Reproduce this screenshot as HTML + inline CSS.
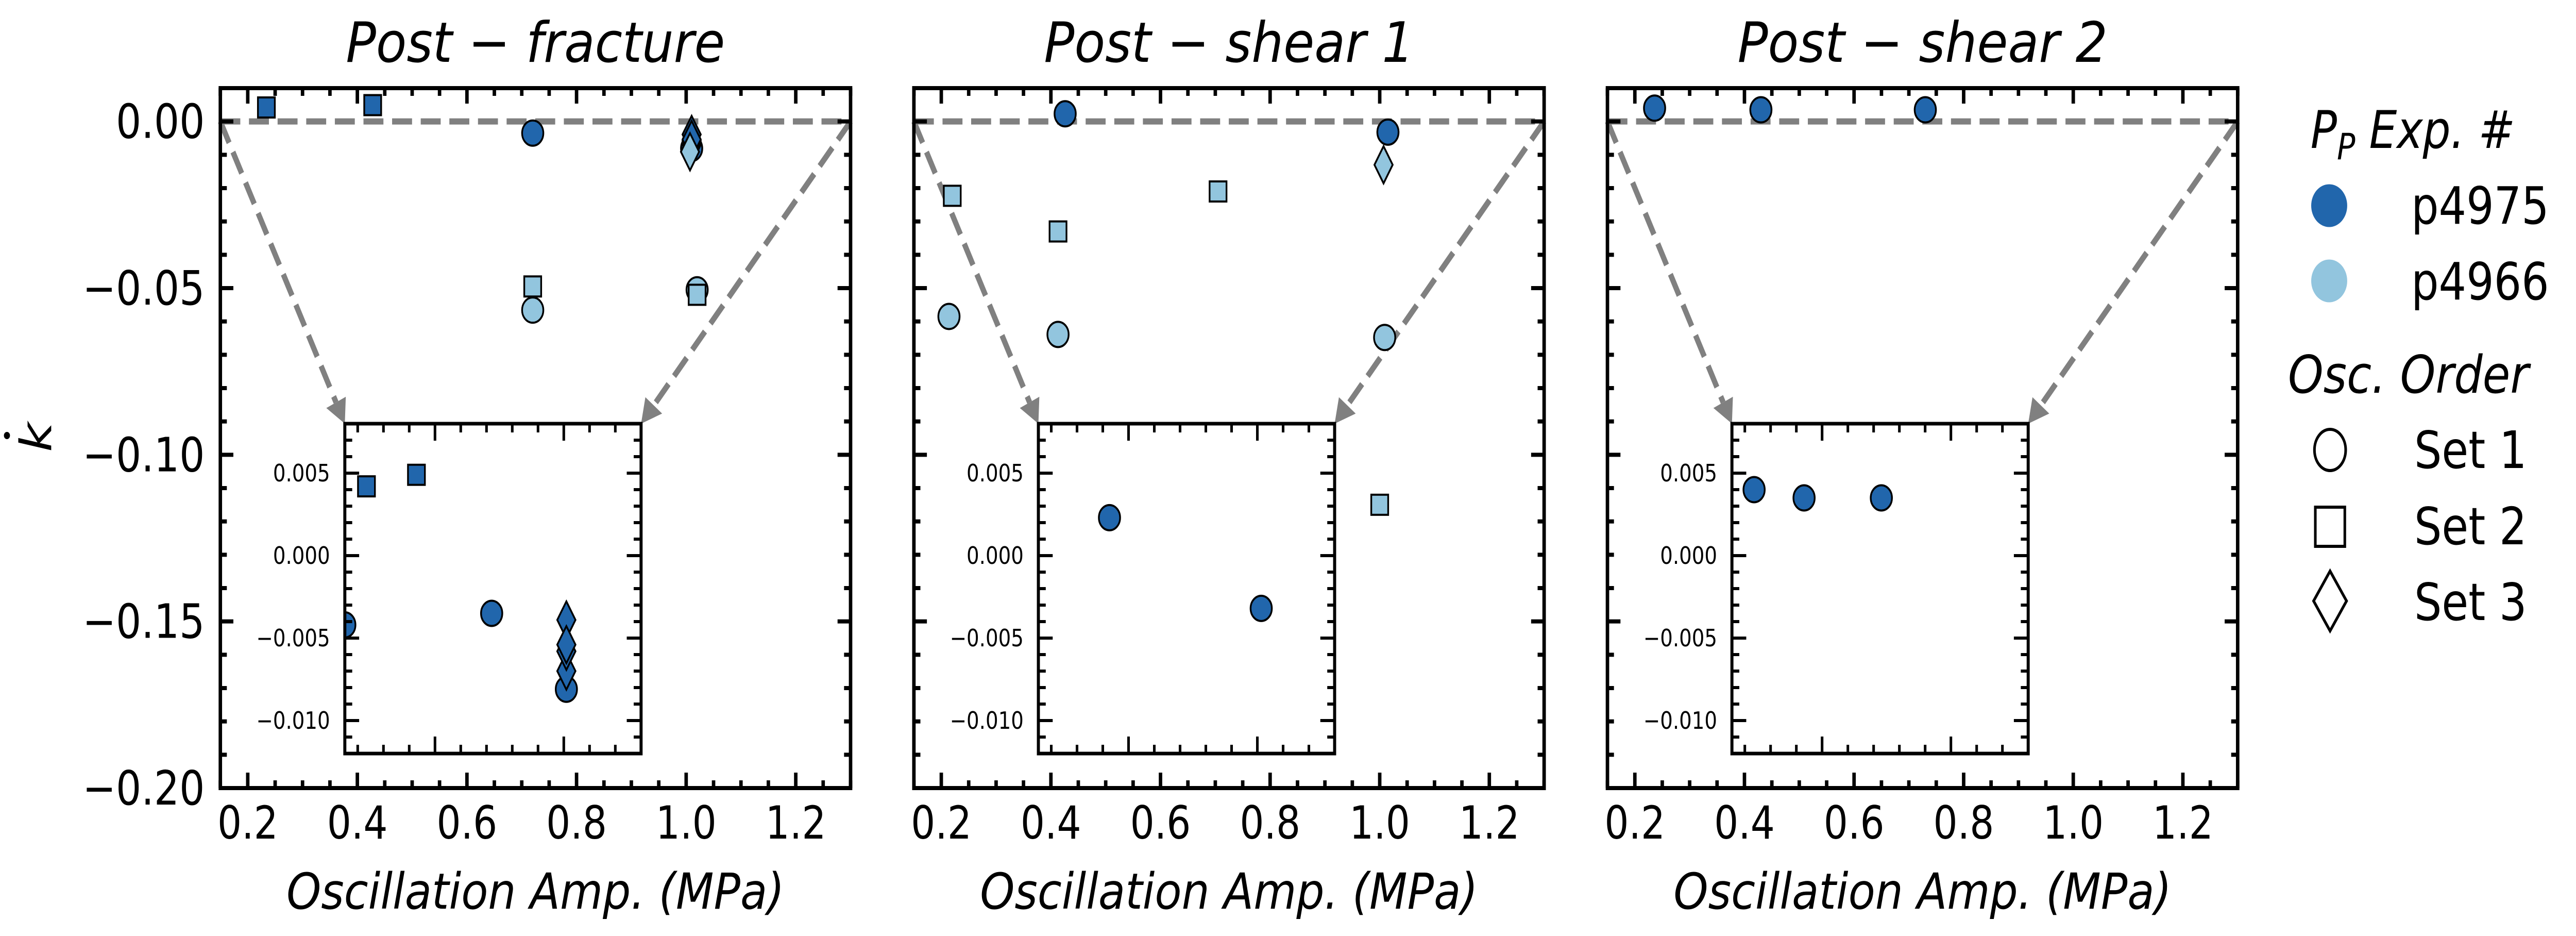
<!DOCTYPE html>
<html><head><meta charset="utf-8"><title>k-dot vs oscillation amplitude</title>
<style>
html,body{margin:0;padding:0;background:#fff;width:100%;height:100%;overflow:hidden;}
svg{display:block;width:100vw;height:100vh;}
text{font-family:"DejaVu Sans","Liberation Sans",sans-serif;fill:#000;}
.it{font-style:oblique;}
</style></head>
<body>
<svg id="chart" xmlns="http://www.w3.org/2000/svg" viewBox="0 0 5939 1816" preserveAspectRatio="none">
<rect width="5939" height="1816" fill="#fff"/>
<g id="root"></g>
</svg>
<script>
// ---- data ----
const panelTitles = ["Post \u2212 fracture", "Post \u2212 shear 1", "Post \u2212 shear 2"];
const mainYTicks = [0.00, -0.05, -0.10, -0.15, -0.20];
const mainYTickLabels = ["0.00", "\u22120.05", "\u22120.10", "\u22120.15", "\u22120.20"];
const mainXTicks = [0.2, 0.4, 0.6, 0.8, 1.0, 1.2];
const mainXTickLabels = ["0.2", "0.4", "0.6", "0.8", "1.0", "1.2"];
const insetYTicks = [0.005, 0.000, -0.005, -0.010];
const insetYTickLabels = ["0.005", "0.000", "\u22120.005", "\u22120.010"];

// panel 1 (Post-fracture)
const p1DarkCircleX = [0.72, 1.01, 0.15];
const p1DarkCircleY = [-0.0035, -0.0081, -0.0042];
const p1DarkSquareX = [0.234, 0.428];
const p1DarkSquareY = [0.0042, 0.0049];
const p1DarkDiamondX = [1.01, 1.01, 1.01, 1.01];
const p1DarkDiamondY = [-0.0039, -0.0070, -0.0058, -0.0054];
const p1LightCircleX = [0.72, 1.02];
const p1LightCircleY = [-0.0566, -0.0505];
const p1LightSquareX = [0.72, 1.02];
const p1LightSquareY = [-0.0495, -0.052];
const p1LightDiamondX = [1.007];
const p1LightDiamondY = [-0.0091];
// panel 2 (Post-shear 1)
const p2DarkCircleX = [0.426, 1.015];
const p2DarkCircleY = [0.0023, -0.0032];
const p2LightCircleX = [0.214, 0.413, 1.009];
const p2LightCircleY = [-0.0585, -0.0639, -0.0648];
const p2LightSquareX = [0.22, 0.413, 0.705, 1.0];
const p2LightSquareY = [-0.0223, -0.033, -0.021, -0.115];
const p2LightDiamondX = [1.007];
const p2LightDiamondY = [-0.013];
// panel 3 (Post-shear 2)
const p3DarkCircleX = [0.236, 0.43, 0.73];
const p3DarkCircleY = [0.004, 0.0035, 0.0035];

const DARK = "#2166ac", LIGHT = "#92c5de";
const NS = "http://www.w3.org/2000/svg";
const root = document.getElementById('root');

function mk(tag, attrs, parent) {
  const e = document.createElementNS(NS, tag);
  for (const k in attrs) e.setAttribute(k, attrs[k]);
  (parent || root).appendChild(e);
  return e;
}

const XMIN = 0.15, XMAX = 1.3;
const PW = 1453, PH = 1358, PT = 171, P0 = 508, PSTEP = 1599;
const YMIN = -0.2, YMAX = 0.01;
const IOFF = 287, IW = 683, IT = 822, IH = 640, IYMIN = -0.012, IYMAX = 0.008;

function marker(g, shape, cx, cy, color, nm) {
  let el;
  if (shape === 'circle') {
    el = mk('circle', {cx: cx, cy: cy, r: 24.5, fill: color, stroke: '#000', 'stroke-width': 4}, g);
  } else if (shape === 'square') {
    el = mk('rect', {x: cx - 19.5, y: cy - 19.5, width: 39, height: 39, fill: color, stroke: '#000', 'stroke-width': 4}, g);
  } else {
    el = mk('polygon', {points: `${cx},${cy-36} ${cx+21},${cy} ${cx},${cy+36} ${cx-21},${cy}`, fill: color, stroke: '#000', 'stroke-width': 4}, g);
  }
  
  
  return el;
}

function ticks(g, x0, y0, w, h, sx, sy, xs, xMajor, ys, yMajor, majL, minL, sw) {
  for (const v of xs) {
    const x = sx(v); if (x < x0 - 1 || x > x0 + w + 1) continue;
    const L = xMajor(v) ? majL : minL;
    mk('line', {x1: x, y1: y0 + h, x2: x, y2: y0 + h - L, stroke: '#000', 'stroke-width': sw}, g);
    mk('line', {x1: x, y1: y0, x2: x, y2: y0 + L, stroke: '#000', 'stroke-width': sw}, g);
  }
  for (const v of ys) {
    const y = sy(v); if (y < y0 - 1 || y > y0 + h + 1) continue;
    const L = yMajor(v) ? majL : minL;
    mk('line', {x1: x0, y1: y, x2: x0 + L, y2: y, stroke: '#000', 'stroke-width': sw}, g);
    mk('line', {x1: x0 + w, y1: y, x2: x0 + w - L, y2: y, stroke: '#000', 'stroke-width': sw}, g);
  }
}

function near(v, step) { return Math.abs(v / step - Math.round(v / step)) < 1e-6; }

const xMinorVals = []; for (let i = 2; i <= 26; i++) xMinorVals.push(i * 0.05);
const yMinorVals = []; for (let i = -20; i <= 1; i++) yMinorVals.push(i * 0.01);
const ixVals = []; for (let i = 2; i <= 13; i++) ixVals.push(i * 0.1);
const iyVals = []; for (let i = -12; i <= 8; i++) iyVals.push(i * 0.001);

const panelSeries = [
  [
    ['circle', p1DarkCircleX, p1DarkCircleY, DARK, 'p4975-set1'],
    ['square', p1DarkSquareX, p1DarkSquareY, DARK, 'p4975-set2'],
    ['diamond', p1DarkDiamondX, p1DarkDiamondY, DARK, 'p4975-set3'],
    ['circle', p1LightCircleX, p1LightCircleY, LIGHT, 'p4966-set1'],
    ['square', p1LightSquareX, p1LightSquareY, LIGHT, 'p4966-set2'],
    ['diamond', p1LightDiamondX, p1LightDiamondY, LIGHT, 'p4966-set3']
  ],
  [
    ['circle', p2DarkCircleX, p2DarkCircleY, DARK, 'p4975-set1'],
    ['circle', p2LightCircleX, p2LightCircleY, LIGHT, 'p4966-set1'],
    ['square', p2LightSquareX, p2LightSquareY, LIGHT, 'p4966-set2'],
    ['diamond', p2LightDiamondX, p2LightDiamondY, LIGHT, 'p4966-set3']
  ],
  [
    ['circle', p3DarkCircleX, p3DarkCircleY, DARK, 'p4975-set1']
  ]
];

const defs = mk('defs', {});
for (let p = 0; p < 3; p++) {
  const x0 = P0 + p * PSTEP;
  const sx = v => x0 + (v - XMIN) / (XMAX - XMIN) * PW;
  const sy = v => PT + (YMAX - v) / (YMAX - YMIN) * PH;
  const ix0 = x0 + IOFF;
  const isx = v => ix0 + (v - XMIN) / (XMAX - XMIN) * IW;
  const isy = v => IT + (IYMAX - v) / (IYMAX - IYMIN) * IH;

  const cp = mk('clipPath', {id: 'clipMain' + p}, defs);
  mk('rect', {x: x0, y: PT, width: PW, height: PH}, cp);
  const cpi = mk('clipPath', {id: 'clipInset' + p}, defs);
  mk('rect', {x: ix0, y: IT, width: IW, height: IH}, cpi);

  const g = mk('g', {});
  
  

  const t = mk('text', {x: x0 + PW / 2, y: 120, 'text-anchor': 'middle', 'font-size': 108, class: 'it', textLength: p === 0 ? 874 : 853, lengthAdjust: 'spacingAndGlyphs'}, g);
  t.textContent = panelTitles[p];
  
  

  const xl = mk('text', {x: x0 + PW / 2, y: 1763, 'text-anchor': 'middle', 'font-size': 96, class: 'it', textLength: 1148, lengthAdjust: 'spacingAndGlyphs'}, g);
  xl.textContent = "Oscillation Amp.  (MPa)";
  
  

  mainXTicks.forEach((v, i) => {
    const tl = mk('text', {x: sx(v), y: 1627, 'text-anchor': 'middle', 'font-size': 88}, g);
    tl.textContent = mainXTickLabels[i];
    
    
  });
  if (p === 0) {
    mainYTicks.forEach((v, i) => {
      const tl = mk('text', {x: 472, y: sy(v) + 32, 'text-anchor': 'end', 'font-size': 92}, g);
      tl.textContent = mainYTickLabels[i];
      
      
    });
  }

  const y0 = sy(0);
  const dl = mk('line', {x1: x0, y1: y0, x2: x0 + PW, y2: y0, stroke: '#808080', 'stroke-width': 12, 'stroke-dasharray': '46 20'}, g);
  
  
  const conns = [[x0, y0, ix0, IT], [x0 + PW, y0, ix0 + IW, IT]];
  conns.forEach((c, ci) => {
    const dx = c[2] - c[0], dy = c[3] - c[1], len = Math.hypot(dx, dy);
    const ux = dx / len, uy = dy / len;
    const bx = c[2] - 46 * ux, by = c[3] - 46 * uy;
    const ln = mk('line', {x1: c[0], y1: c[1], x2: bx, y2: by, stroke: '#808080', 'stroke-width': 12, 'stroke-dasharray': '46 20'}, g);
    
    
    const px = -uy * 25, py = ux * 25;
    const ah = mk('polygon', {points: `${c[2]},${c[3]} ${bx + px},${by + py} ${bx - px},${by - py}`, fill: '#808080'}, g);
    
    
  });

  const mg = mk('g', {'clip-path': `url(#clipMain${p})`}, g);
  
  
  for (const s of panelSeries[p]) {
    s[1].forEach((xv, i) => { if (xv >= XMIN + 0.005) marker(mg, s[0], sx(xv), sy(s[2][i]), s[3], s[4] + '-point'); });
  }

  const fr = mk('rect', {x: x0, y: PT, width: PW, height: PH, fill: 'none', stroke: '#000', 'stroke-width': 8}, g);
  
  
  ticks(g, x0, PT, PW, PH, sx, sy, xMinorVals, v => near(v, 0.2), yMinorVals, v => near(v, 0.05), 30, 15, 8);

  const ig = mk('g', {}, g);
  
  
  const ibg = mk('rect', {x: ix0, y: IT, width: IW, height: IH, fill: '#fff'}, ig);
  
  
  const img = mk('g', {'clip-path': `url(#clipInset${p})`}, ig);
  
  
  for (const s of panelSeries[p]) {
    if (s[3] !== DARK) continue;
    s[1].forEach((xv, i) => marker(img, s[0], isx(xv), isy(s[2][i]), s[3], s[4] + '-inset-point'));
  }
  const ifr = mk('rect', {x: ix0, y: IT, width: IW, height: IH, fill: 'none', stroke: '#000', 'stroke-width': 7}, ig);
  
  
  ticks(ig, ix0, IT, IW, IH, isx, isy, ixVals, v => near(v, 0.5), iyVals, v => near(v, 0.005), 33, 17, 6);
  insetYTicks.forEach((v, i) => {
    const tl = mk('text', {x: ix0 - 34, y: isy(v) + 16, 'text-anchor': 'end', 'font-size': 46}, ig);
    tl.textContent = insetYTickLabels[i];
    
    
  });
}

const yl = mk('text', {x: 0, y: 0, transform: 'translate(118,848) rotate(-90)', 'text-anchor': 'middle', 'font-size': 100, class: 'it'});
yl.textContent = "k";


const yd = mk('circle', {cx: 16, cy: 845, r: 7, fill: '#000'});



const lg = mk('g', {});


const lt1 = mk('text', {x: 5327, y: 287, 'font-size': 101, class: 'it'}, lg);
lt1.innerHTML = 'P<tspan font-size="70" dy="22">P</tspan><tspan dy="-22"> Exp.  #</tspan>';


const legendExp = [["p4975", DARK, 399, 434], ["p4966", LIGHT, 545, 581]];
legendExp.forEach(e => {
  const c = mk('circle', {cx: 5370, cy: e[2], r: 41.5, fill: e[1]}, lg);
  
  
  const t = mk('text', {x: 5559, y: e[3], 'font-size': 100}, lg);
  t.textContent = e[0];
  
  
});
const lt2 = mk('text', {x: 5275, y: 762, 'font-size': 101, class: 'it', textLength: 555, lengthAdjust: 'spacingAndGlyphs'}, lg);
lt2.textContent = "Osc.  Order";


const cx = 5372;
const s1 = mk('ellipse', {cx: cx, cy: 873, rx: 36, ry: 40, fill: 'none', stroke: '#000', 'stroke-width': 6}, lg);


const s2 = mk('rect', {x: cx - 34, y: 1022 - 38, width: 68, height: 76, fill: 'none', stroke: '#000', 'stroke-width': 6}, lg);


const s3 = mk('polygon', {points: `${cx},1108 ${cx+38},1166 ${cx},1224 ${cx-38},1166`, fill: 'none', stroke: '#000', 'stroke-width': 6}, lg);


[["Set 1", 908], ["Set 2", 1056], ["Set 3", 1203]].forEach(e => {
  const t = mk('text', {x: 5566, y: e[1], 'font-size': 100}, lg);
  t.textContent = e[0];
  
  
});
</script>
</body></html>
